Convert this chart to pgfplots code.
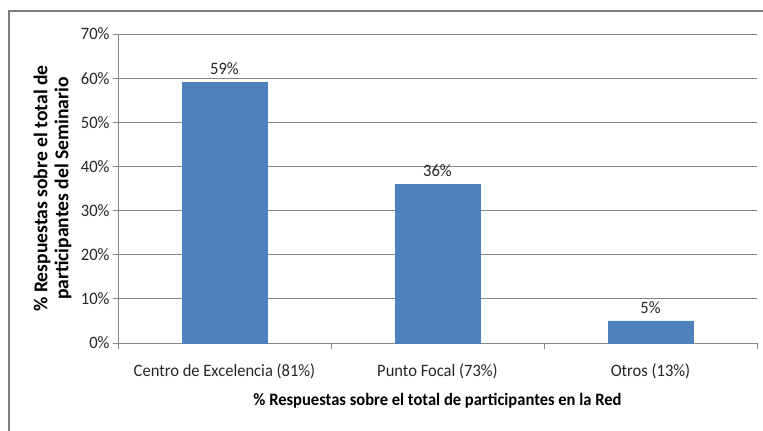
\documentclass[border=0pt]{standalone}
\usepackage{pgfplots}
\pgfplotsset{compat=1.18}
\usepackage{fontspec}
\setmainfont{Carlito}
\newfontfamily\narrowfont{Carlito}[FakeStretch=0.95]
\definecolor{barblue}{RGB}{79,129,189}
\definecolor{axisgray}{RGB}{134,134,134}
\definecolor{framegray}{RGB}{128,128,128}

\begin{document}
\begin{tikzpicture}[x=1pt,y=1pt]
\useasboundingbox (0,0) rectangle (763,-431);
\draw[framegray,line width=1.5pt] (9,-431) -- (9,-11) -- (763,-11);
\begin{axis}[
  at={(118pt,-343pt)},anchor=south west,
  scale only axis,
  width=639pt,height=309pt,
  ybar,
  bar width=85pt,
  xmin=-0.5,xmax=2.5,
  ymin=0,ymax=70,
  xtick={0,1,2},
  xticklabels={Centro de Excelencia (81\%),Punto Focal (73\%),Otros (13\%)},
  major x tick style={draw=none},
  minor xtick={-0.5,0.5,1.5,2.5},
  ytick={0,10,...,70},
  yticklabel={\pgfmathprintnumber{\tick}\%},
  /pgf/number format/assume math mode=true,
  tick align=outside,
  major tick length=5pt,
  minor tick length=6pt,
  tick style={axisgray,line width=0.8pt},
  axis lines*=left,
  axis line style={axisgray,line width=0.8pt,-},
  ymajorgrids,
  grid style={axisgray,line width=0.8pt},
  ticklabel style={font=\narrowfont\fontsize{17.4}{18}\selectfont,text=black!85},
  xticklabel style={yshift=-12pt},
  ylabel={\% Respuestas sobre el total de\\participantes del Seminario},
  ylabel style={font=\bfseries\fontsize{19.6}{21}\selectfont,align=center,
    at={(axis description cs:-0.1025,0.5)},anchor=center},
  xlabel={\% Respuestas sobre el total de participantes en la Red},
  xlabel style={font=\narrowfont\bfseries\fontsize{17.4}{18}\selectfont,yshift=-8pt},
  nodes near coords={\pgfmathprintnumber{\pgfplotspointmeta}\%},
  nodes near coords style={font=\narrowfont\fontsize{17.4}{18}\selectfont,text=black!85,yshift=4pt},
]
\addplot[fill=barblue,draw=barblue] coordinates {(0,59) (1,36) (2,5)};
\end{axis}
\end{tikzpicture}
\end{document}
